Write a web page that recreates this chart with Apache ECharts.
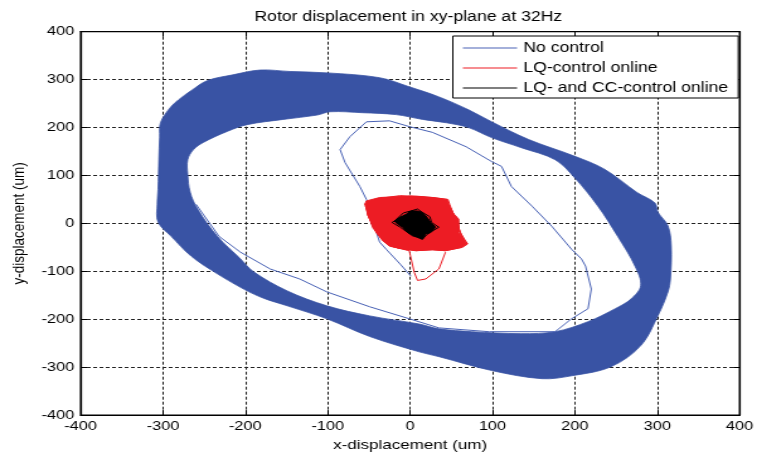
<!DOCTYPE html>
<html>
<head>
<meta charset="utf-8">
<script src="https://cdn.jsdelivr.net/npm/echarts@6/dist/echarts.min.js"></script>
<style>
html,body{margin:0;padding:0;background:#fff;overflow:hidden}
#wrap{width:757px;height:457px;overflow:hidden}
#c{width:601px;height:457px;transform:scaleX(1.25957);transform-origin:0 0}
</style>
</head>
<body>
<div id="wrap"><div id="c"></div></div>
<script>
// ---- data (x, y in um) ----
const titleText = 'Rotor displacement in xy-plane at 32Hz';
const xName = 'x-displacement (um)';
const yName = 'y-displacement (um)';
const seriesNames = ['No control', 'LQ-control online', 'LQ- and CC-control online'];
const axisMin = -400, axisMax = 400, axisStep = 100;

// "No control": outer and inner boundaries of the dense orbit band
const bandOuter = [[-303,210],[-292,240],[-281,258],[-265,278],[-246,298],[-215,310],[-182,320],[-146,317],[-100,314],[-37,304],[-1,285],[35,264],[71,237],[99,212],[144,175],[200,140],[236,113],[276,64],[297,43],[301,23],[313,-5],[317,-47],[316,-116],[313,-143],[301,-192],[280,-255],[244,-299],[196,-318],[160,-324],[99,-307],[35,-278],[11,-268],[-49,-236],[-101,-199],[-149,-172],[-178,-156],[-202,-137],[-238,-101],[-266,-68],[-290,-27],[-306,3],[-307,40],[-306,71],[-305,134],[-304,180]];
const bandInner = [[-263,154],[-251,169],[-222,192],[-198,206],[-154,217],[-113,226],[-97,233],[-58,231],[-17,227],[15,217],[44,210],[71,200],[99,179],[135,158],[176,133],[200,95],[228,36],[252,-27],[273,-89],[280,-130],[268,-158],[249,-178],[216,-205],[176,-226],[135,-230],[75,-226],[35,-220],[11,-210],[-49,-193],[-101,-172],[-149,-141],[-190,-101],[-206,-74],[-234,-27],[-258,30],[-267,65],[-270,102],[-270,133]];
// "No control": start-up transient (thin trace)
const noCtrlTransient = [[1,-110],[-12,-85],[-29,-54],[-37,-39],[-41,-18],[-47,0],[-53,50],[-61,77],[-79,127],[-85,154],[-73,181],[-53,212],[-25,214],[-1,202],[27,190],[68,160],[99,129],[111,119],[123,77],[148,36],[172,-6],[196,-54],[208,-74],[213,-89],[220,-137],[216,-178],[196,-199],[176,-226],[96,-226],[35,-218],[-1,-199],[-49,-174],[-101,-143],[-134,-116],[-170,-95],[-206,-60],[-232,-27],[-260,40]];

// "LQ-control online": cluster outline, scribble orbit and tail
const lqBody = [[-53,47],[-37,54],[-13,56],[7,57],[27,54],[45,50],[47,40],[51,23],[59,9],[59,-19],[69,-43],[63,-50],[43,-57],[27,-55],[7,-57],[-13,-52],[-25,-47],[-33,-36],[-41,-19],[-47,2],[-51,16],[-53,30],[-55,40]];
const lqScribble = [[-55,40],[-38,52],[-12,58],[8,56],[28,54],[46,50],[48,40],[52,22],[58,9],[60,-18],[70,-43],[63,-50],[43,-57],[27,-55],[7,-57],[-13,-52],[-25,-47],[-33,-36],[-41,-19],[-47,2],[-51,16],[-53,30],[-50,46],[-20,54],[15,52],[44,46],[55,14],[63,-30],[56,-48],[20,-52],[-20,-44],[-44,-5],[-54,35],[-30,49],[0,57],[38,51],[50,30],[57,-5],[67,-38],[35,-53],[-5,-55],[-30,-40],[-45,-10],[-52,22],[-25,-47],[-1,-57]];
const lqTail = [[-1,-57],[5,-102],[9,-119],[19,-116],[35,-95],[43,-60]];

// "LQ- and CC-control online": small cluster around the origin
const ccBody = [[-19,5],[-13,12],[-5,19],[1,26],[9,26],[15,23],[21,12],[25,2],[31,-8],[25,-19],[19,-22],[15,-33],[9,-29],[3,-26],[-3,-19],[-9,-8],[-15,-2]];
const ccScribble = [[-19,5],[-8,22],[1,26],[9,30],[15,23],[24,14],[26,2],[35,-8],[27,-16],[20,-24],[15,-33],[8,-28],[-3,-19],[-12,-8],[-22,2],[-10,14],[5,20],[18,10],[28,-5],[10,-20],[-5,-5]];

// ---- styles ----
const FONT = '"Liberation Sans", Arial, sans-serif';
const BLUE = '#3953a4', BLUE_LINE = '#4a63b6', RED = '#ed1c24', BLACK = '#000000';

function ringRender(outer, inner, color) {
  return function (params, api) {
    const o = outer.map(p => api.coord(p));
    const inn = inner.map(p => api.coord(p)).reverse();
    return {
      type: 'compoundPath',
      shape: { paths: [
        { type: 'polygon', shape: { points: o, smooth: 0.35 } },
        { type: 'polygon', shape: { points: inn, smooth: 0.35 } }
      ] },
      style: { fill: color, stroke: color, lineWidth: 0.8 }
    };
  };
}
function polyRender(poly, color) {
  return function (params, api) {
    return { type: 'polygon', shape: { points: poly.map(p => api.coord(p)) }, style: { fill: color, stroke: color, lineWidth: 1 } };
  };
}

const axisBase = (extra) => Object.assign({
  type: 'value', min: axisMin, max: axisMax, interval: axisStep,
  axisLine: { show: true, onZero: false, lineStyle: { color: '#000', width: 1.2 } },
  axisTick: { show: true, inside: true, length: 5, lineStyle: { color: '#000', width: 1 } },
  axisLabel: { show: true, margin: 5, color: '#000', fontFamily: FONT, fontSize: 13 },
  splitLine: { show: true, lineStyle: { color: '#222', type: [3, 2], width: 1 } }
}, extra);

const option = {
  animation: false,
  backgroundColor: '#fff',
  title: {
    text: titleText, left: 202, top: 10, padding: 0,
    textStyle: { fontFamily: FONT, fontSize: 14, fontWeight: 'normal', color: '#000' }
  },
  legend: {
    orient: 'vertical', left: 359.5, top: 36, padding: [5, 8, 3, 8],
    itemWidth: 43, itemHeight: 1.2, itemGap: 6, selectedMode: false,
    backgroundColor: '#fff', borderColor: '#000', borderWidth: 1,
    textStyle: { fontFamily: FONT, fontSize: 14, color: '#000', lineHeight: 14 },
    data: [
      { name: seriesNames[0], icon: 'rect', itemStyle: { color: BLUE_LINE } },
      { name: seriesNames[1], icon: 'rect', itemStyle: { color: RED } },
      { name: seriesNames[2], icon: 'rect', itemStyle: { color: BLACK } }
    ]
  },
  grid: { left: 63, right: 11.6, top: 31.7, bottom: 40.3, show: true, borderColor: '#000', borderWidth: 1.2, backgroundColor: '#fff' },
  xAxis: [
    axisBase({ position: 'bottom', name: xName, nameLocation: 'middle', nameGap: 21,
      nameTextStyle: { fontFamily: FONT, fontSize: 13.5, color: '#000' } }),
    axisBase({ position: 'top', axisLabel: { show: false }, splitLine: { show: false } })
  ],
  yAxis: [
    axisBase({ position: 'left', name: yName, nameLocation: 'middle', nameGap: 42,
      nameTextStyle: { fontFamily: FONT, fontSize: 13.5, color: '#000' } }),
    axisBase({ position: 'right', axisLabel: { show: false }, splitLine: { show: false } })
  ],
  series: [
    { type: 'custom', name: seriesNames[0], renderItem: ringRender(bandOuter, bandInner, BLUE), data: [[0, 0]], silent: true, z: 2 },
    { type: 'line', name: seriesNames[0], data: noCtrlTransient, showSymbol: false, symbol: 'none', lineStyle: { color: BLUE_LINE, width: 1 }, z: 3 },
    { type: 'custom', name: seriesNames[1], renderItem: polyRender(lqBody, RED), data: [[0, 0]], silent: true, z: 4 },
    { type: 'line', name: seriesNames[1], data: lqScribble.concat(lqTail), showSymbol: false, symbol: 'none', lineStyle: { color: RED, width: 1 }, z: 5 },
    { type: 'custom', name: seriesNames[2], renderItem: polyRender(ccBody, BLACK), data: [[0, 0]], silent: true, z: 6 },
    { type: 'line', name: seriesNames[2], data: ccScribble, showSymbol: false, symbol: 'none', lineStyle: { color: BLACK, width: 1 }, z: 7 }
  ]
};

const chart = echarts.init(document.getElementById('c'), null, { renderer: 'canvas' });
chart.setOption(option);
</script>
</body>
</html>
